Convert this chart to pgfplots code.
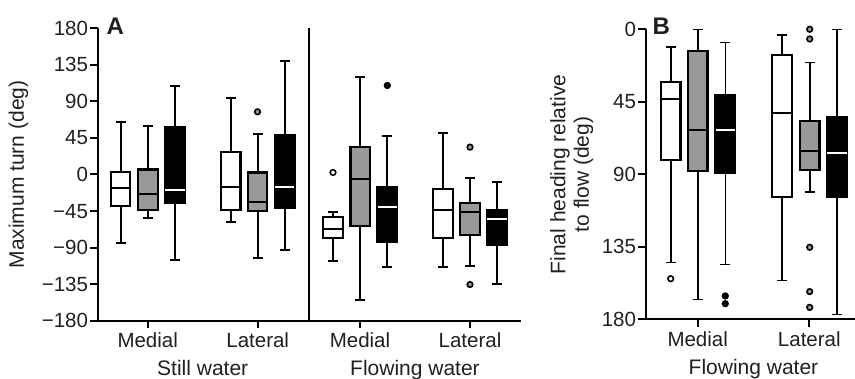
\documentclass[border=0pt]{standalone}
\usepackage{fontspec}
\setmainfont{Liberation Sans}
\usepackage{pgfplots}
\pgfplotsset{compat=1.18}
\usepgfplotslibrary{statistics}
\definecolor{txt}{HTML}{231F20}
\definecolor{boxgray}{HTML}{999999}
\newcommand{\tck}{\fontsize{20.5bp}{24bp}\selectfont}
\newcommand{\lbl}{\fontsize{21bp}{23.5bp}\selectfont}
\pgfplotsset{
  panel/.style={
    scale only axis, clip=false,
    /pgf/number format/assume math mode=true,
    axis lines*=left,
    axis line style={line width=2bp, black},
    tick align=outside,
    major tick length=7.5bp,
    every tick/.style={line width=2bp, black},
    tick label style={font=\tck, text=txt},
    yticklabel style={inner sep=2bp},
    xticklabel style={inner sep=0bp, yshift=-4.5bp},
    boxplot/draw direction=y,
  },
  wb/.style={draw=black, fill=white, line width=2.2bp,
    boxplot/every median/.style={draw=black, line width=2bp},
    boxplot/every whisker/.style={line width=2bp},
    mark=*, mark size=2.8bp, mark options={fill=white, draw=black, line width=1.6bp, solid}},
  gb/.style={draw=black, fill=boxgray, line width=2.2bp,
    boxplot/every median/.style={draw=black, line width=2bp},
    boxplot/every whisker/.style={line width=2bp},
    mark=*, mark size=2.8bp, mark options={fill=boxgray, draw=black, line width=1.6bp, solid}},
  kb/.style={draw=black, fill=black, line width=2.2bp,
    boxplot/every median/.style={draw=white, line width=2bp},
    boxplot/every whisker/.style={line width=2bp},
    mark=*, mark size=2.8bp, mark options={fill=black, draw=black, line width=1.6bp, solid}},
  thinw/.style={boxplot/every whisker/.style={line width=1.6bp}},
}
% \bp{style}{position}{lower whisker}{lower quartile}{median}{upper quartile}{upper whisker}
\newcommand{\bp}[7]{\addplot[#1, boxplot prepared={draw position=#2, lower whisker=#3,
  lower quartile=#4, median=#5, upper quartile=#6, upper whisker=#7,
  box extend=19.5, whisker extend=10}]}
\begin{document}
\begin{tikzpicture}
\path[use as bounding box] (0,0) rectangle (855bp,379bp);
% ---------------- Panel A ----------------
\begin{axis}[panel, at={(97.7bp,58.3bp)}, anchor=south west,
  width=423bp, height=292.4bp,
  xmin=0, xmax=423, ymin=-180, ymax=180,
  ytick={-180,-135,-90,-45,0,45,90,135,180},
  yticklabels={{−180},{−135},{−90},{−45},0,45,90,135,180},
  xtick={50,160,262.3,372.3},
  xticklabels={Medial,Lateral,Medial,Lateral},
]
% divider between still and flowing water
\addplot[black, line width=2bp, mark=none] coordinates {(211,-180) (211,180)};
% Still water, medial
\bp{wb}{22.8}{-84.2}{-39}{-17.2}{3.3}{64.9} coordinates {};
\bp{gb}{50.3}{-53}{-43.9}{-24.2}{6.2}{59.1} coordinates {};
\bp{kb}{77.3}{-105.5}{-34.9}{-18.5}{58.3}{108.8} coordinates {};
% Still water, lateral
\bp{wb}{133}{-57.9}{-43.9}{-15.6}{27.9}{93.6} coordinates {};
\bp{gb}{159.8}{-102.2}{-44.7}{-33.7}{2.5}{49.3} coordinates {(0,77.2)};
\bp{kb}{187}{-92.8}{-40.6}{-15.2}{48.9}{139.6} coordinates {};
% Flowing water, medial
\bp{wb}{235.3}{-105.9}{-78}{-67.7}{-52.1}{-46.4} coordinates {(0,2.5)};
\bp{gb}{262.6}{-154.8}{-63.6}{-5.7}{34.1}{119.9} coordinates {};
\bp{kb}{289.6}{-114.5}{-82.9}{-39.8}{-16}{48} coordinates {(0,109.6)};
% Flowing water, lateral
\bp{wb}{345.3}{-113.7}{-78}{-43.1}{-17.7}{51.3} coordinates {};
\bp{gb}{372.3}{-112.1}{-74.7}{-46.4}{-34.9}{-4.1} coordinates {(0,33.7) (0,-135.5)};
\bp{kb}{399.3}{-135.1}{-87}{-55.4}{-44.3}{-9.4} coordinates {};
\node[font=\lbl, text=txt, anchor=base, inner sep=0] at (axis cs:105,-180) [yshift=-55bp] {Still water};
\node[font=\lbl, text=txt, anchor=base, inner sep=0] at (axis cs:317.3,-180) [yshift=-55bp] {Flowing water};
\end{axis}
% ---------------- Panel B ----------------
\begin{axis}[panel, at={(645.7bp,59.7bp)}, anchor=south west,
  width=209.3bp, height=290bp, y dir=reverse,
  xmin=0, xmax=209.3, ymin=0, ymax=180,
  ytick={0,45,90,135,180},
  yticklabels={0,45,90,135,180},
  xtick={52,163.6},
  xticklabels={Medial,Lateral},
]
% Medial
\bp{wb,thinw}{25}{11}{32.7}{43.2}{81.3}{144.8} coordinates {(0,154.8)};
\bp{gb,thinw}{52.1}{0}{13.7}{62.7}{88.1}{167.6} coordinates {};
\bp{kb,thinw}{79.6}{8.3}{40.8}{62.5}{89}{145.9} coordinates {(0,165.5) (0,170.3)};
% Lateral
\bp{wb,thinw}{136.3}{3.5}{16.1}{51.9}{104.1}{156} coordinates {};
\bp{gb,thinw}{164}{20.5}{56.7}{75.3}{87.1}{101} coordinates {(0,0) (0,6) (0,135.3) (0,162.8) (0,172.6)};
\bp{kb,thinw}{191.3}{0}{54.6}{76.6}{104.3}{177.1} coordinates {};
\node[font=\lbl, text=txt, anchor=base, inner sep=0] at (axis cs:107.8,180) [yshift=-55bp] {Flowing water};
\end{axis}
% ---------------- Labels ----------------
\node[font=\lbl, text=txt, rotate=90, anchor=north, inner sep=0] at (8.5bp,204.5bp) {Maximum turn (deg)};
\node[font=\lbl, text=txt, rotate=90, anchor=north, inner sep=0, align=center] at (550bp,204.5bp) {Final heading relative\\to flow (deg)};
\node[font=\fontsize{24bp}{28bp}\selectfont\bfseries, text=txt, anchor=base west, inner sep=0] at (106.5bp,344bp) {A};
\node[font=\fontsize{24bp}{28bp}\selectfont\bfseries, text=txt, anchor=base west, inner sep=0] at (652.5bp,344bp) {B};
\end{tikzpicture}
\end{document}
